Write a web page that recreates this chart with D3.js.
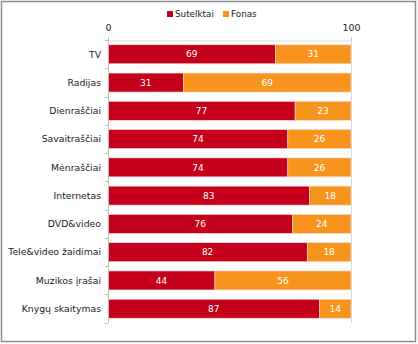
<!DOCTYPE html>
<html lang="en">
<head>
  <meta charset="UTF-8" />
  <title>Sutelktai / Fonas</title>
  <script src="https://cdn.jsdelivr.net/npm/d3@7"></script>
  <style>
    body { margin: 0; background: #fff; }
    svg text { font-family: Verdana, "DejaVu Sans", sans-serif; }
  </style>
</head>
<body>
<script>
  // data
  var categories = ["TV", "Radijas", "Dienraščiai", "Savaitraščiai", "Mėnraščiai",
                    "Internetas", "DVD&video", "Tele&video žaidimai", "Muzikos įrašai", "Knygų skaitymas"];
  var sutelktai = [69, 31, 77, 74, 74, 83, 76, 82, 44, 87];
  var fonas     = [31, 69, 23, 26, 26, 18, 24, 18, 56, 14];
  var seriesNames = ["Sutelktai", "Fonas"];
  var xTicks = [0, 100];

  var w = 418, h = 344;
  var colors = ["#c5001a", "#f7941d"];

  var svg = d3.select("body").append("svg")
    .attr("width", w)
    .attr("height", h);

  svg.append("rect")
    .attr("x", 1.5).attr("y", 1.5)
    .attr("width", w - 4).attr("height", h - 4)
    .attr("fill", "#fff")
    .attr("stroke", "#8c8c8c")
    .attr("stroke-width", 1.5);

  var xScale = d3.scaleLinear()
    .domain([0, 100])
    .range([108, 351])
    .clamp(true);

  var yScale = d3.scaleBand()
    .domain(categories)
    .range([40, 323])
    .paddingInner(0.33)
    .paddingOuter(0.17);

  // gridline at 100
  svg.append("line")
    .attr("x1", xScale(100) + 0.5).attr("x2", xScale(100) + 0.5)
    .attr("y1", 40).attr("y2", 323)
    .attr("stroke", "#d9d9d9");

  // top axis
  var xAxis = d3.axisTop(xScale)
    .tickValues(xTicks)
    .tickSize(3)
    .tickFormat(d3.format("d"));

  var gx = svg.append("g")
    .attr("transform", "translate(0,40.5)")
    .call(xAxis);
  gx.select(".domain").attr("stroke", "#d9d9d9");
  gx.selectAll(".tick line").attr("stroke", "#bfbfbf");
  gx.selectAll(".tick text")
    .attr("font-size", 9.5)
    .attr("fill", "#222")
    .attr("y", -10);

  // stacked data
  var rows = categories.map(function(c, i) {
    return { cat: c, vals: [sutelktai[i], fonas[i]] };
  });

  var rowG = svg.selectAll("g.row")
    .data(rows)
    .enter()
    .append("g")
    .attr("class", "row");

  rowG.each(function(d) {
    var g = d3.select(this);
    var start = 0;
    d.vals.forEach(function(v, j) {
      var x0 = xScale(start), x1 = xScale(start + v);
      g.append("rect")
        .attr("x", x0)
        .attr("y", yScale(d.cat))
        .attr("width", x1 - x0)
        .attr("height", yScale.bandwidth())
        .attr("fill", colors[j])
        .attr("stroke", "#f7d6d6")
        .attr("stroke-width", 0.6);
      g.append("text")
        .attr("x", (x0 + x1) / 2)
        .attr("y", yScale(d.cat) + yScale.bandwidth() / 2)
        .attr("dy", "0.35em")
        .attr("text-anchor", "middle")
        .attr("font-size", 9)
        .attr("fill", "#fff")
        .text(v);
      start += v;
    });
  });

  // left axis
  var step = yScale.step();
  svg.append("line")
    .attr("x1", 108.5).attr("x2", 108.5)
    .attr("y1", 40).attr("y2", 323)
    .attr("stroke", "#bfbfbf");

  var bounds = d3.range(categories.length + 1).map(function(i) {
    return 40 + i * step;
  });
  svg.selectAll("line.ytick")
    .data(bounds)
    .enter()
    .append("line")
    .attr("class", "ytick")
    .attr("x1", 105).attr("x2", 108)
    .attr("y1", function(d) { return Math.round(d) + 0.5; })
    .attr("y2", function(d) { return Math.round(d) + 0.5; })
    .attr("stroke", "#bfbfbf");

  svg.selectAll("text.cat")
    .data(categories)
    .enter()
    .append("text")
    .attr("class", "cat")
    .attr("x", 101)
    .attr("y", function(d) { return yScale(d) + yScale.bandwidth() / 2; })
    .attr("dy", "0.35em")
    .attr("text-anchor", "end")
    .attr("font-size", 9.3)
    .attr("fill", "#222")
    .text(function(d) { return d; });

  // legend
  var legendX = [167, 223];
  var leg = svg.selectAll("g.legend")
    .data(seriesNames)
    .enter()
    .append("g")
    .attr("class", "legend")
    .attr("transform", function(d, i) { return "translate(" + legendX[i] + ",14)"; });
  leg.append("rect")
    .attr("x", 0).attr("y", -3)
    .attr("width", 6).attr("height", 6)
    .attr("fill", function(d, i) { return colors[i]; });
  leg.append("text")
    .attr("x", 8)
    .attr("dy", "0.35em")
    .attr("font-size", 8.8)
    .attr("fill", "#222")
    .text(function(d) { return d; });
</script>
</body>
</html>
